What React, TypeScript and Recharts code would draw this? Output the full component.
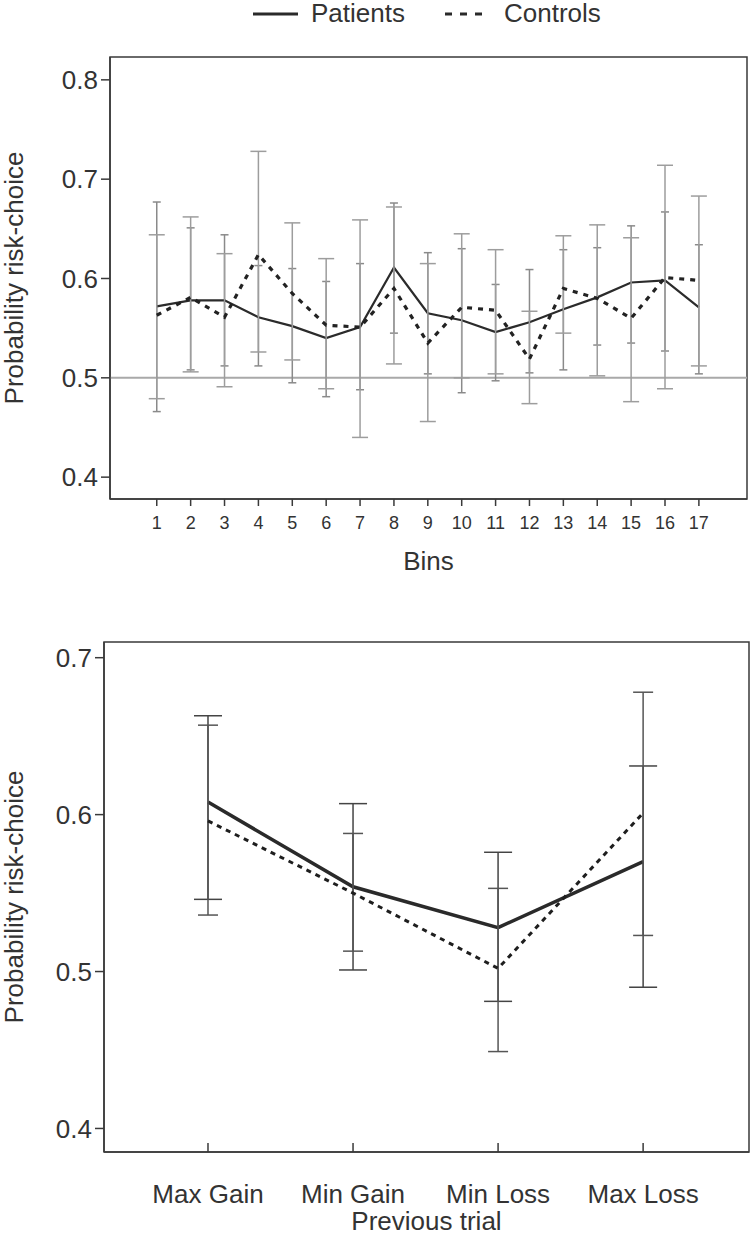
import { LineChart, Line, XAxis, YAxis, ErrorBar, ReferenceLine, ReferenceArea } from "recharts"

// top panel: risk choice across the 17 bins
const bins = [1, 2, 3, 4, 5, 6, 7, 8, 9, 10, 11, 12, 13, 14, 15, 16, 17]
const patientsMean = [0.572, 0.578, 0.578, 0.561, 0.552, 0.54, 0.551, 0.611, 0.565, 0.558, 0.546, 0.556, 0.569, 0.581, 0.596, 0.598, 0.571]
const controlsMean = [0.563, 0.581, 0.561, 0.624, 0.585, 0.553, 0.551, 0.59, 0.535, 0.571, 0.568, 0.519, 0.59, 0.58, 0.56, 0.601, 0.598]
const patientsLow = [0.466, 0.508, 0.512, 0.512, 0.495, 0.481, 0.488, 0.545, 0.504, 0.485, 0.497, 0.505, 0.508, 0.533, 0.535, 0.527, 0.504]
const patientsHigh = [0.677, 0.651, 0.644, 0.613, 0.61, 0.597, 0.615, 0.676, 0.626, 0.63, 0.594, 0.609, 0.629, 0.631, 0.653, 0.667, 0.634]
const controlsLow = [0.479, 0.506, 0.491, 0.526, 0.518, 0.489, 0.44, 0.514, 0.456, 0.5, 0.504, 0.474, 0.545, 0.502, 0.476, 0.489, 0.512]
const controlsHigh = [0.644, 0.662, 0.625, 0.728, 0.656, 0.62, 0.659, 0.672, 0.615, 0.645, 0.629, 0.567, 0.643, 0.654, 0.641, 0.714, 0.683]
const binTicksY = [0.4, 0.5, 0.6, 0.7, 0.8]

// bottom panel: outcome of the previous trial
const trialTypes = ["Max Gain", "Min Gain", "Min Loss", "Max Loss"]
const prevPatientsMean = [0.608, 0.554, 0.528, 0.57]
const prevControlsMean = [0.596, 0.55, 0.502, 0.601]
const prevPatientsLow = [0.546, 0.501, 0.481, 0.49]
const prevPatientsHigh = [0.663, 0.607, 0.576, 0.631]
const prevControlsLow = [0.536, 0.513, 0.449, 0.523]
const prevControlsHigh = [0.657, 0.588, 0.553, 0.678]
const prevTicksY = [0.4, 0.5, 0.6, 0.7]

const FONT = "'Liberation Sans', Arial, Helvetica, sans-serif"
const TEXT = "#333"
const AXIS = "#3a3a3a"

const binX = [-0.38, 18.42]
const binY = [0.378, 0.823]
const prevX = [0.283, 4.73]
const prevY = [0.385, 0.71]

const binRows = bins.map((bin, i) => ({
  bin,
  patients: patientsMean[i],
  controls: controlsMean[i],
  patientsErr: [patientsMean[i] - patientsLow[i], patientsHigh[i] - patientsMean[i]],
  controlsErr: [controlsMean[i] - controlsLow[i], controlsHigh[i] - controlsMean[i]],
}))

const prevRows = trialTypes.map((name, i) => ({
  pos: i + 1,
  patients: prevPatientsMean[i],
  controls: prevControlsMean[i],
  patientsErr: [prevPatientsMean[i] - prevPatientsLow[i], prevPatientsHigh[i] - prevPatientsMean[i]],
  controlsErr: [prevControlsMean[i] - prevControlsLow[i], prevControlsHigh[i] - prevControlsMean[i]],
}))

const tickStyle = { fill: TEXT, fontSize: 26, fontFamily: FONT }

function LegendRow() {
  return (
    <div style={{ position: "absolute", left: 0, top: 0, width: 750, height: 30, fontFamily: FONT, fontSize: 26, color: TEXT }}>
      <svg width={750} height={30} style={{ position: "absolute", left: 0, top: 0 }}>
        <line x1={253} y1={14} x2={298} y2={14} stroke="#2a2a2a" strokeWidth={3} />
        <line x1={445} y1={14} x2={484} y2={14} stroke="#2a2a2a" strokeWidth={3} strokeDasharray="7 8" />
      </svg>
      <span style={{ position: "absolute", left: 311, top: -2, lineHeight: "30px" }}>Patients</span>
      <span style={{ position: "absolute", left: 504, top: -2, lineHeight: "30px" }}>Controls</span>
    </div>
  )
}

export default function App() {
  return (
    <div style={{ position: "absolute", left: 0, top: 0, width: 750, height: 1235, background: "#fff" }}>
      <LegendRow />
      <div style={{ position: "absolute", left: 0, top: 0 }}>
        <LineChart width={750} height={580} data={binRows} margin={{ top: 57, right: 3, left: 0, bottom: 6 }}>
          <XAxis
            dataKey="bin"
            type="number"
            domain={binX}
            ticks={bins}
            interval={0}
            allowDataOverflow
            height={75}
            tickSize={7}
            tickMargin={10}
            tick={{ fill: TEXT, fontSize: 18, fontFamily: FONT }}
            stroke={AXIS}
            strokeWidth={1.5}
            label={{ value: "Bins", position: "insideBottom", offset: 4, fill: TEXT, fontSize: 26, fontFamily: FONT }}
          />
          <YAxis
            type="number"
            domain={binY}
            ticks={binTicksY}
            allowDataOverflow
            width={110}
            tickSize={9}
            tickMargin={3}
            tick={tickStyle}
            tickFormatter={(v: number) => v.toFixed(1)}
            stroke={AXIS}
            strokeWidth={1.5}
            label={{ value: "Probability risk-choice", angle: -90, position: "insideLeft", offset: 14, fill: TEXT, fontSize: 26, fontFamily: FONT, style: { textAnchor: "middle" } }}
          />
          <ReferenceArea x1={binX[0]} x2={binX[1]} y1={binY[0]} y2={binY[1]} fill="none" stroke={AXIS} strokeWidth={1.5} ifOverflow="visible" />
          <ReferenceLine y={0.5} stroke="#a9a9a9" strokeWidth={2} />
          <Line dataKey="patients" stroke="#2b2b2b" strokeWidth={2.2} dot={false} isAnimationActive={false}>
            <ErrorBar dataKey="patientsErr" width={4} stroke="#8a8a8a" strokeWidth={1.5} direction="y" />
          </Line>
          <Line dataKey="controls" stroke="#222" strokeWidth={3.2} strokeDasharray="5 6" dot={false} isAnimationActive={false}>
            <ErrorBar dataKey="controlsErr" width={8} stroke="#9d9d9d" strokeWidth={1.5} direction="y" />
          </Line>
        </LineChart>
      </div>
      <div style={{ position: "absolute", left: 0, top: 600 }}>
        <LineChart width={750} height={635} data={prevRows} margin={{ top: 42, right: 1, left: 0, bottom: 0 }}>
          <XAxis
            dataKey="pos"
            type="number"
            domain={prevX}
            ticks={[1, 2, 3, 4]}
            interval={0}
            allowDataOverflow
            height={83}
            tickSize={-9}
            tickMargin={42}
            tick={tickStyle}
            tickFormatter={(v: number) => trialTypes[v - 1]}
            stroke={AXIS}
            strokeWidth={1.5}
            label={{ value: "Previous trial", position: "insideBottom", offset: 5, fill: TEXT, fontSize: 26, fontFamily: FONT }}
          />
          <YAxis
            type="number"
            domain={prevY}
            ticks={prevTicksY}
            allowDataOverflow
            width={104}
            tickSize={9}
            tickMargin={3}
            tick={tickStyle}
            tickFormatter={(v: number) => v.toFixed(1)}
            stroke={AXIS}
            strokeWidth={1.5}
            label={{ value: "Probability risk-choice", angle: -90, position: "insideLeft", offset: 14, fill: TEXT, fontSize: 26, fontFamily: FONT, style: { textAnchor: "middle" } }}
          />
          <ReferenceArea x1={prevX[0]} x2={prevX[1]} y1={prevY[0]} y2={prevY[1]} fill="none" stroke={AXIS} strokeWidth={1.5} ifOverflow="visible" />
          <Line dataKey="patients" stroke="#2a2a2a" strokeWidth={3.5} dot={false} isAnimationActive={false}>
            <ErrorBar dataKey="patientsErr" width={14} stroke="#444" strokeWidth={1.5} direction="y" />
          </Line>
          <Line dataKey="controls" stroke="#1e1e1e" strokeWidth={3} strokeDasharray="5 5" dot={false} isAnimationActive={false}>
            <ErrorBar dataKey="controlsErr" width={10} stroke="#555" strokeWidth={1.5} direction="y" />
          </Line>
        </LineChart>
      </div>
    </div>
  )
}
